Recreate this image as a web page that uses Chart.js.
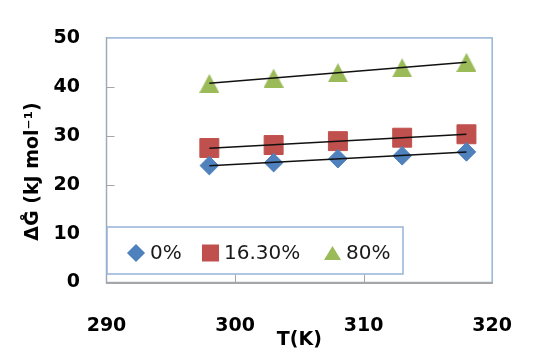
<!DOCTYPE html>
<html>
<head>
<meta charset="utf-8">
<script src="https://cdn.jsdelivr.net/npm/chart.js@4.4.0/dist/chart.umd.min.js"></script>
<style>
  html, body { margin: 0; padding: 0; background: #fff; }
  #wrap { width: 544px; height: 349px; position: relative; }
</style>
</head>
<body>
<div id="wrap"><canvas id="c" width="544" height="349"></canvas></div>
<script>
// Gibbs free energy vs temperature at three concentrations
const temperatures = [298, 303, 308, 313, 318];
const dG_0 = [23.9, 24.5, 25.3, 25.9, 26.7];
const dG_16 = [27.5, 28.1, 28.9, 29.6, 30.3];
const dG_80 = [40.7, 41.8, 42.9, 43.9, 45.0];
const seriesLabels = ['0%', '16.30%', '80%'];
const xTicks = [290, 300, 310, 320];
const yTicks = [0, 10, 20, 30, 40, 50];

const FONT = "'DejaVu Sans', sans-serif";
const BLUE = '#4F81BD', RED = '#C0504D', GREEN = '#9BBB59';
const FRAME = '#95B3D7', AXIS = '#A6A6A6';

function points(ys) { return temperatures.map((t, i) => ({ x: t, y: ys[i] })); }

// least-squares linear trend line across the measured range
function trend(ys) {
  const n = temperatures.length;
  const mx = temperatures.reduce((a, b) => a + b, 0) / n;
  const my = ys.reduce((a, b) => a + b, 0) / n;
  let sxy = 0, sxx = 0;
  temperatures.forEach((t, i) => { sxy += (t - mx) * (ys[i] - my); sxx += (t - mx) * (t - mx); });
  const b = sxy / sxx, a = my - b * mx;
  const x0 = temperatures[0], x1 = temperatures[n - 1];
  return [{ x: x0, y: a + b * x0 }, { x: x1, y: a + b * x1 }];
}

// triangle marker centred on its bounding box
function triangleImage(w, h, color) {
  const cv = document.createElement('canvas');
  cv.width = w; cv.height = h;
  const c = cv.getContext('2d');
  c.fillStyle = color;
  c.beginPath();
  c.moveTo(w / 2, 0); c.lineTo(w, h); c.lineTo(0, h); c.closePath();
  c.fill();
  return cv;
}

function markerSet(label, ys, color, style, r) {
  return {
    type: 'scatter', label, data: points(ys), showLine: false,
    pointStyle: style, pointRadius: r, pointHoverRadius: r,
    backgroundColor: color, borderColor: color, borderWidth: 1, order: 2
  };
}
function trendSet(ys) {
  return {
    type: 'line', label: '', data: trend(ys), showLine: true, fill: false,
    borderColor: '#111', borderWidth: 1.5, pointRadius: 0, order: 1
  };
}

const legendMarkers = [
  { style: 'rectRot', r: 8, color: BLUE },
  { style: 'rect', r: 11, color: RED },
  { style: triangleImage(17, 14, GREEN), r: 9, color: GREEN }
];

const framePlugin = {
  id: 'frame',
  beforeDraw(chart) {
    const { ctx, chartArea: a } = chart;
    ctx.save();
    ctx.fillStyle = '#fff';
    ctx.fillRect(0, 0, chart.width, chart.height);
    ctx.strokeStyle = FRAME;
    ctx.lineWidth = 1.5;
    ctx.strokeRect(a.left, a.top, a.right - a.left, a.bottom - a.top);
    ctx.restore();
  },
  beforeDatasetsDraw(chart) {
    // short inward tick marks
    const { ctx, chartArea: a, scales: { x, y } } = chart;
    ctx.save();
    ctx.strokeStyle = AXIS;
    ctx.lineWidth = 1;
    ctx.beginPath();
    yTicks.forEach(v => {
      if (v > y.min && v < y.max) {
        const py = Math.round(y.getPixelForValue(v)) + 0.5;
        ctx.moveTo(a.left, py); ctx.lineTo(a.left + 8, py);
      }
    });
    xTicks.forEach(v => {
      if (v > x.min && v < x.max) {
        const px = Math.round(x.getPixelForValue(v)) + 0.5;
        ctx.moveTo(px, a.bottom); ctx.lineTo(px, a.bottom - 8);
      }
    });
    ctx.stroke();
    ctx.restore();
  },
  afterDraw(chart) {
    const ctx = chart.ctx;
    // vertical axis title
    ctx.save();
    ctx.translate(37.5, 171.5);
    ctx.rotate(-Math.PI / 2);
    ctx.font = 'bold 19px ' + FONT;
    ctx.fillStyle = '#000';
    ctx.textAlign = 'center';
    ctx.textBaseline = 'alphabetic';
    ctx.fillText('ΔG\u030A (kJ mol\u207B\u00B9)', 0, 0);
    ctx.restore();

    // legend box inside the plot area
    const bx = 107, by = 227, bw = 296, bh = 47;
    ctx.save();
    ctx.fillStyle = '#fff';
    ctx.fillRect(bx, by, bw, bh);
    ctx.strokeStyle = FRAME;
    ctx.lineWidth = 1.5;
    ctx.strokeRect(bx, by, bw, bh);
    const cy = 253;
    const markerX = [136, 210.5, 332.5];
    const textX = [150, 224, 346];
    ctx.font = '20px ' + FONT;
    ctx.textBaseline = 'middle';
    ctx.textAlign = 'left';
    seriesLabels.forEach((lab, i) => {
      const m = legendMarkers[i];
      ctx.fillStyle = m.color;
      ctx.strokeStyle = m.color;
      Chart.helpers.drawPoint(ctx, { pointStyle: m.style, radius: m.r, rotation: 0, borderWidth: 1 }, markerX[i], cy);
      ctx.fillStyle = '#1a1a1a';
      ctx.fillText(lab, textX[i], cy + 1);
    });
    ctx.restore();
  }
};

new Chart(document.getElementById('c'), {
  type: 'scatter',
  data: {
    datasets: [
      trendSet(dG_0), trendSet(dG_16), trendSet(dG_80),
      markerSet(seriesLabels[0], dG_0, BLUE, 'rectRot', 9.3),
      markerSet(seriesLabels[1], dG_16, RED, 'rect', 13.4),
      markerSet(seriesLabels[2], dG_80, GREEN, triangleImage(20, 19, GREEN), 10)
    ]
  },
  options: {
    responsive: false,
    devicePixelRatio: 1,
    animation: false,
    layout: { padding: { top: 21, right: 21, left: 0, bottom: 0 } },
    plugins: { legend: { display: false }, tooltip: { enabled: false }, title: { display: false } },
    scales: {
      x: {
        type: 'linear', min: 290, max: 320,
        afterBuildTicks: s => { s.ticks = xTicks.map(v => ({ value: v })); },
        afterFit: s => { s.height = 66.5; },
        grid: { display: false, drawTicks: false },
        border: { display: true, color: AXIS, width: 2 },
        ticks: { padding: 32, color: '#000', font: { family: FONT, size: 19, weight: 'bold' } },
        title: { display: true, text: 'T(K)', color: '#000', font: { family: FONT, size: 19, weight: 'bold' }, padding: { top: 0, bottom: -2 } }
      },
      y: {
        type: 'linear', min: 0, max: 50,
        afterBuildTicks: s => { s.ticks = yTicks.map(v => ({ value: v })); },
        afterFit: s => { s.width = 106.5; },
        grid: { display: false, drawTicks: false },
        border: { display: true, color: AXIS, width: 1 },
        ticks: { padding: 26.5, color: '#000', font: { family: FONT, size: 19, weight: 'bold' } }
      }
    }
  },
  plugins: [framePlugin]
});
</script>
</body>
</html>
